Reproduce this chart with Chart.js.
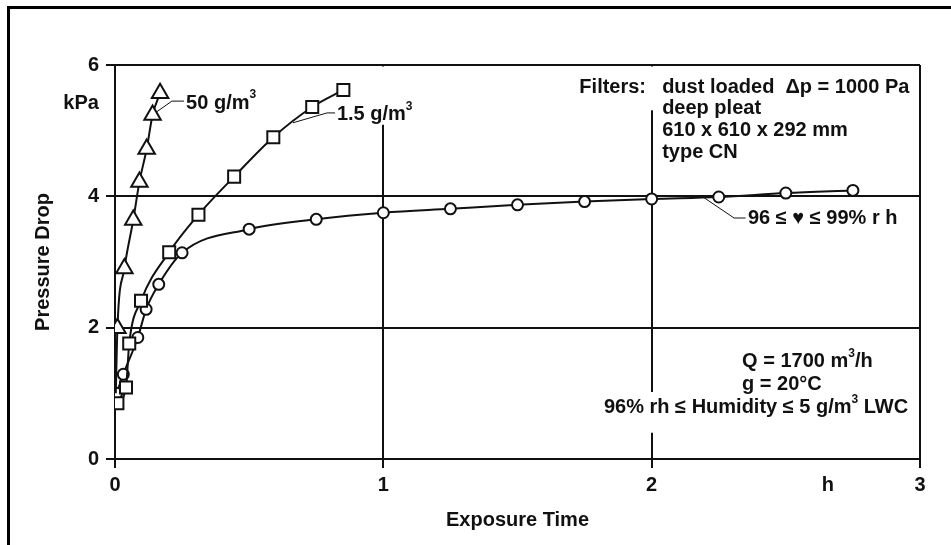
<!DOCTYPE html>
<html>
<head>
<meta charset="utf-8">
<title>Pressure drop vs exposure time</title>
<script src="https://cdn.jsdelivr.net/npm/chart.js@4.4.1/dist/chart.umd.min.js"></script>
<style>
  html, body { margin: 0; padding: 0; background: #fff; }
  #wrap { position: relative; width: 951px; height: 545px; overflow: hidden; }
  #wrap canvas { position: absolute; left: 0; top: 0; }
  #frame {
    position: absolute; left: 7px; top: 6px; right: -10px; bottom: -10px;
    border-left: 3px solid #000; border-top: 3px solid #000; pointer-events: none;
  }
</style>
</head>
<body>
<div id="wrap">
  <canvas id="pressureChart" width="951" height="545"></canvas>
  <div id="frame"></div>
</div>
<script>
// Exposure time (h) and pressure drop (kPa) for each test series
const time50 = [0.003, 0.009, 0.035, 0.068, 0.091, 0.118, 0.140, 0.168];
const drop50 = [1.00, 1.99, 2.90, 3.64, 4.22, 4.72, 5.24, 5.57];

const time15 = [0.009, 0.041, 0.053, 0.097, 0.202, 0.311, 0.444, 0.590, 0.735, 0.851];
const drop15 = [0.85, 1.09, 1.76, 2.41, 3.15, 3.72, 4.30, 4.90, 5.36, 5.62];

const timeRh = [0.006, 0.031, 0.085, 0.116, 0.163, 0.25, 0.5, 0.75, 1.0, 1.25, 1.5, 1.75, 2.0, 2.25, 2.5, 2.75];
const dropRh = [1.00, 1.29, 1.85, 2.28, 2.66, 3.14, 3.50, 3.65, 3.75, 3.81, 3.87, 3.92, 3.96, 3.99, 4.05, 4.09];

const xTicks = [0, 1, 2, 3];
const yTicks = [0, 2, 4, 6];

const FONT = "'Liberation Sans', Arial, Helvetica, sans-serif";
const INK = "#111";

function toPoints(xs, ys) {
  return xs.map((x, i) => ({ x: x, y: ys[i] }));
}

// Text blocks placed in data units; [text, true] marks a superscript
const notes = [
  { t: -0.06, v: 5.42, align: "right", parts: [["kPa"]] },
  { t: 0.265, v: 5.42, align: "left", parts: [["50 g/m"], ["3", true]] },
  { t: 0.827, v: 5.24, align: "left", parts: [["1.5 g/m"], ["3", true]] },
  { t: 1.979, v: 5.66, align: "right", parts: [["Filters:"]] },
  { t: 2.039, v: 5.66, align: "left", parts: [["dust loaded  \u0394p = 1000 Pa"]] },
  { t: 2.039, v: 5.34, align: "left", parts: [["deep pleat"]] },
  { t: 2.039, v: 5.01, align: "left", parts: [["610 x 610 x 292 mm"]] },
  { t: 2.039, v: 4.67, align: "left", parts: [["type CN"]] },
  { t: 2.359, v: 3.67, align: "left", parts: [["96 \u2264 \u2665 \u2264 99% r h"]] },
  { t: 2.337, v: 1.48, align: "left", parts: [["Q = 1700 m"], ["3", true], ["/h"]] },
  { t: 2.337, v: 1.13, align: "left", parts: [["g = 20\u00b0C"]] },
  { t: 2.956, v: 0.78, align: "right", parts: [["96% rh \u2264 Humidity \u2264 5 g/m"], ["3", true], [" LWC"]] },
  { t: 2.657, v: -0.40, align: "center", parts: [["h"]] }
];

// Thin leader lines from the curves to their labels
const leaders = [
  [[0.153, 5.28], [0.212, 5.45], [0.257, 5.45]],
  [[0.663, 5.12], [0.790, 5.27], [0.820, 5.27]],
  [[2.195, 3.98], [2.307, 3.67], [2.350, 3.67]]
];

// Where the vertical grid lines are interrupted behind the text
const gridBreaks = [
  { t: 1, from: 5.09, to: 6 },
  { t: 2, from: 5.31, to: 6 },
  { t: 2, from: 0.40, to: 1.02 }
];

function drawRich(ctx, parts, x, y, align) {
  const main = "bold 20px " + FONT;
  const sup = "bold 12px " + FONT;
  let width = 0;
  parts.forEach((p) => {
    ctx.font = p[1] ? sup : main;
    width += ctx.measureText(p[0]).width;
  });
  let cx = align === "right" ? x - width : align === "center" ? x - width / 2 : x;
  ctx.textAlign = "left";
  ctx.textBaseline = "middle";
  parts.forEach((p) => {
    ctx.font = p[1] ? sup : main;
    ctx.fillText(p[0], cx, p[1] ? y - 8 : y);
    cx += ctx.measureText(p[0]).width;
  });
}

const annotations = {
  id: "annotations",
  beforeDatasetsDraw(chart) {
    const { ctx, scales } = chart;
    ctx.save();
    ctx.fillStyle = "#fff";
    gridBreaks.forEach((b) => {
      const x = scales.x.getPixelForValue(b.t);
      const yTop = scales.y.getPixelForValue(b.to) + (b.to >= 6 ? 1.5 : 0);
      const yBot = scales.y.getPixelForValue(b.from);
      ctx.fillRect(x - 3, yTop, 6, yBot - yTop);
    });
    ctx.restore();
  },
  afterDraw(chart) {
    const { ctx, scales } = chart;
    ctx.save();
    ctx.strokeStyle = INK;
    ctx.lineWidth = 1;
    leaders.forEach((pts) => {
      ctx.beginPath();
      pts.forEach((p, i) => {
        const x = scales.x.getPixelForValue(p[0]);
        const y = scales.y.getPixelForValue(p[1]);
        if (i === 0) ctx.moveTo(x, y);
        else ctx.lineTo(x, y);
      });
      ctx.stroke();
    });
    ctx.fillStyle = INK;
    notes.forEach((n) => {
      const x = scales.x.getPixelForValue(n.t);
      const y = scales.y.getPixelForValue(n.v);
      drawRich(ctx, n.parts, x, y, n.align);
    });
    ctx.restore();
  }
};

const seriesStyle = {
  borderColor: INK,
  borderWidth: 2,
  backgroundColor: "#fff",
  pointBackgroundColor: "#fff",
  pointBorderColor: INK,
  pointBorderWidth: 2,
  cubicInterpolationMode: "monotone",
  showLine: true
};

new Chart(document.getElementById("pressureChart"), {
  type: "scatter",
  data: {
    datasets: [
      Object.assign({
        label: "50 g/m3",
        data: toPoints(time50, drop50),
        pointStyle: "triangle",
        // first point is the common start of the curves, no marker
        pointRadius: (c) => (c.dataIndex === 0 ? 0 : 9.5)
      }, seriesStyle),
      Object.assign({
        label: "1.5 g/m3",
        data: toPoints(time15, drop15),
        pointStyle: "rect",
        pointRadius: 8.5
      }, seriesStyle),
      Object.assign({
        label: "96-99% rh",
        data: toPoints(timeRh, dropRh),
        pointStyle: "circle",
        pointRadius: 5.5
      }, seriesStyle)
    ]
  },
  options: {
    responsive: false,
    animation: false,
    events: [],
    layout: { padding: { top: 65, right: 31, bottom: 0, left: 0 } },
    plugins: {
      legend: { display: false },
      tooltip: { enabled: false }
    },
    scales: {
      x: {
        type: "linear",
        min: 0,
        max: 3,
        afterBuildTicks: (s) => { s.ticks = xTicks.map((v) => ({ value: v })); },
        afterFit: (s) => { s.height = 86; },
        ticks: {
          color: INK,
          padding: 5,
          maxRotation: 0,
          font: { family: FONT, size: 20, weight: "bold" }
        },
        grid: { color: INK, lineWidth: 2, tickLength: 9 },
        border: { color: INK, width: 2 },
        title: {
          display: true,
          text: "Exposure Time",
          color: INK,
          padding: { top: 0, bottom: 13 },
          font: { family: FONT, size: 20, weight: "bold" }
        }
      },
      y: {
        min: 0,
        max: 6,
        afterBuildTicks: (s) => { s.ticks = yTicks.map((v) => ({ value: v })); },
        afterFit: (s) => { s.width = 115; },
        ticks: {
          color: INK,
          padding: 7,
          font: { family: FONT, size: 20, weight: "bold" }
        },
        grid: { color: INK, lineWidth: 2, tickLength: 9 },
        border: { color: INK, width: 2 },
        title: {
          display: true,
          text: "Pressure Drop",
          color: INK,
          padding: { top: 31, bottom: 0 },
          font: { family: FONT, size: 20, weight: "bold" }
        }
      }
    }
  },
  plugins: [annotations]
});
</script>
</body>
</html>
